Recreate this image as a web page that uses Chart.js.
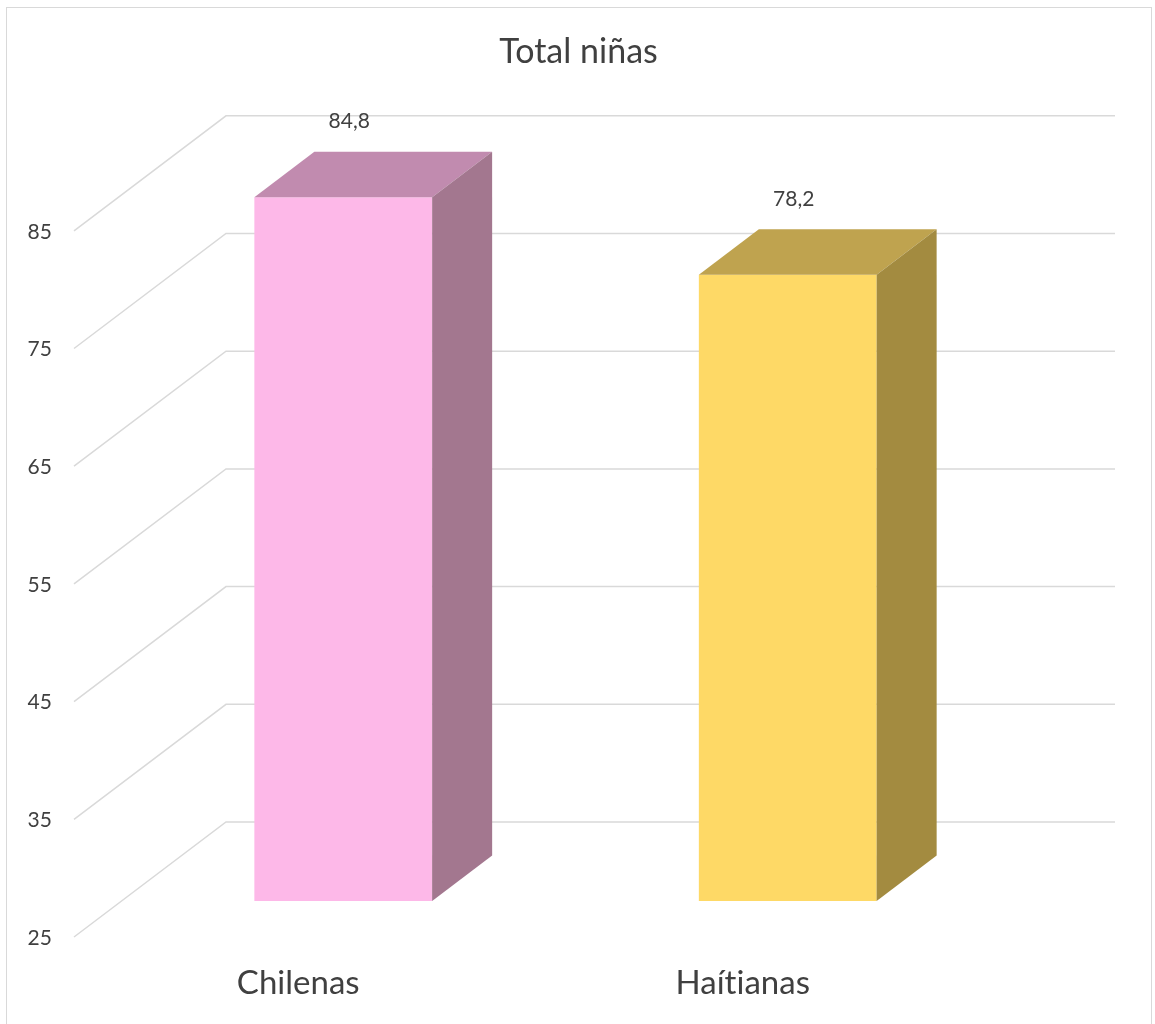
<!DOCTYPE html>
<html>
<head>
<meta charset="utf-8">
<script src="https://cdn.jsdelivr.net/npm/chart.js@4.4.1/dist/chart.umd.min.js"></script>
<style>
  html, body { margin: 0; padding: 0; background: #fff; }
  #wrap { position: relative; width: 1155px; height: 1024px; }
</style>
</head>
<body>
<div id="wrap"><canvas id="chart"></canvas></div>
<script>
// --- Data ---
const chartTitle = 'Total niñas';
const categories = ['Chilenas', 'Haítianas'];
const values = [84.8, 78.2];
const yTicks = [25, 35, 45, 55, 65, 75, 85];

// --- Colours (front / top / side of each bar) ---
const frontColors = ['#fdb8e8', '#fed966'];
const topColors = ['#c18baf', '#bfa34f'];
const sideColors = ['#a3778f', '#a38b40'];
const textColor = '#404040';
const gridColor = '#d9d9d9';

// 3D offsets, relative to the bars' front plane
const BACK = { x: 105, y: -79 };    // back wall
const FRONT = { x: -47, y: 36 };    // front edge of side wall
const DEPTH = { x: 60, y: -45.5 };  // bar depth

const fmt = v => v.toFixed(1).replace('.', ',');

// no ligatures (Lato joins "ti")
function plainText(ctx) {
    if ('textRendering' in ctx) ctx.textRendering = 'optimizeSpeed';
    if ('letterSpacing' in ctx) ctx.letterSpacing = '0.01px';
}

const fake3d = {
    id: 'fake3d',
    beforeDraw(chart) {
        const ctx = chart.ctx;
        ctx.save();
        // outer frame
        ctx.strokeStyle = gridColor;
        ctx.lineWidth = 1;
        ctx.strokeRect(6.5, 7.5, 1145, 1100);
        // title, centred on the whole canvas
        plainText(ctx);
        ctx.fillStyle = textColor;
        ctx.font = '34px Lato';
        ctx.textAlign = 'center';
        ctx.textBaseline = 'middle';
        ctx.fillText(chartTitle, chart.width / 2 + 1, 52);
        ctx.restore();
    },
    beforeDatasetsDraw(chart) {
        const { ctx, chartArea, scales: { y } } = chart;
        ctx.save();
        // back wall gridlines + side wall diagonals
        ctx.strokeStyle = gridColor;
        ctx.lineWidth = 1.5;
        yTicks.forEach(v => {
            const py = y.getPixelForValue(v);
            ctx.beginPath();
            ctx.moveTo(chartArea.left + FRONT.x, py + FRONT.y);
            ctx.lineTo(chartArea.left + BACK.x, py + BACK.y);
            ctx.lineTo(chartArea.right + BACK.x, py + BACK.y);
            ctx.stroke();
        });
        // tick labels sit at the front edge
        plainText(ctx);
        ctx.fillStyle = textColor;
        ctx.font = '21px Lato';
        ctx.textAlign = 'right';
        ctx.textBaseline = 'middle';
        yTicks.forEach(v => {
            ctx.fillText(String(v), chartArea.left + FRONT.x - 22, y.getPixelForValue(v) + FRONT.y + 1);
        });
        ctx.restore();
    },
    afterDatasetsDraw(chart) {
        const { ctx, chartArea } = chart;
        const meta = chart.getDatasetMeta(0);
        ctx.save();
        plainText(ctx);
        meta.data.forEach((bar, i) => {
            const { x, y, base, width } = bar.getProps(['x', 'y', 'base', 'width'], true);
            const l = x - width / 2;
            const r = x + width / 2;
            const bottom = Math.min(base, chartArea.bottom); // bars start at the axis minimum

            // top face
            ctx.fillStyle = topColors[i];
            ctx.beginPath();
            ctx.moveTo(l, y);
            ctx.lineTo(r, y);
            ctx.lineTo(r + DEPTH.x, y + DEPTH.y);
            ctx.lineTo(l + DEPTH.x, y + DEPTH.y);
            ctx.closePath();
            ctx.fill();

            // side face
            ctx.fillStyle = sideColors[i];
            ctx.beginPath();
            ctx.moveTo(r, y);
            ctx.lineTo(r + DEPTH.x, y + DEPTH.y);
            ctx.lineTo(r + DEPTH.x, bottom + DEPTH.y);
            ctx.lineTo(r, bottom);
            ctx.closePath();
            ctx.fill();

            // value label
            ctx.fillStyle = textColor;
            ctx.textAlign = 'center';
            ctx.textBaseline = 'middle';
            ctx.font = '21px Lato';
            ctx.fillText(fmt(values[i]), x + 6, y - 76);

            // category label
            ctx.font = '33px Lato';
            ctx.fillText(categories[i], x + FRONT.x + 2, chartArea.bottom + 82);
        });
        ctx.restore();
    }
};

new Chart(document.getElementById('chart'), {
    type: 'bar',
    data: {
        labels: categories,
        datasets: [{
            data: values,
            backgroundColor: frontColors,
            borderWidth: 0,
            barPercentage: 0.4,
            categoryPercentage: 1.0
        }]
    },
    options: {
        responsive: true,
        maintainAspectRatio: false,
        animation: false,
        layout: { padding: { left: 121, right: 145, top: 194.8, bottom: 123 } },
        scales: {
            x: { display: false },
            y: { display: false, min: 25, max: 85, beginAtZero: false }
        },
        plugins: {
            legend: { display: false },
            tooltip: { enabled: false },
            title: { display: false }
        }
    },
    plugins: [fake3d]
});
</script>
</body>
</html>
